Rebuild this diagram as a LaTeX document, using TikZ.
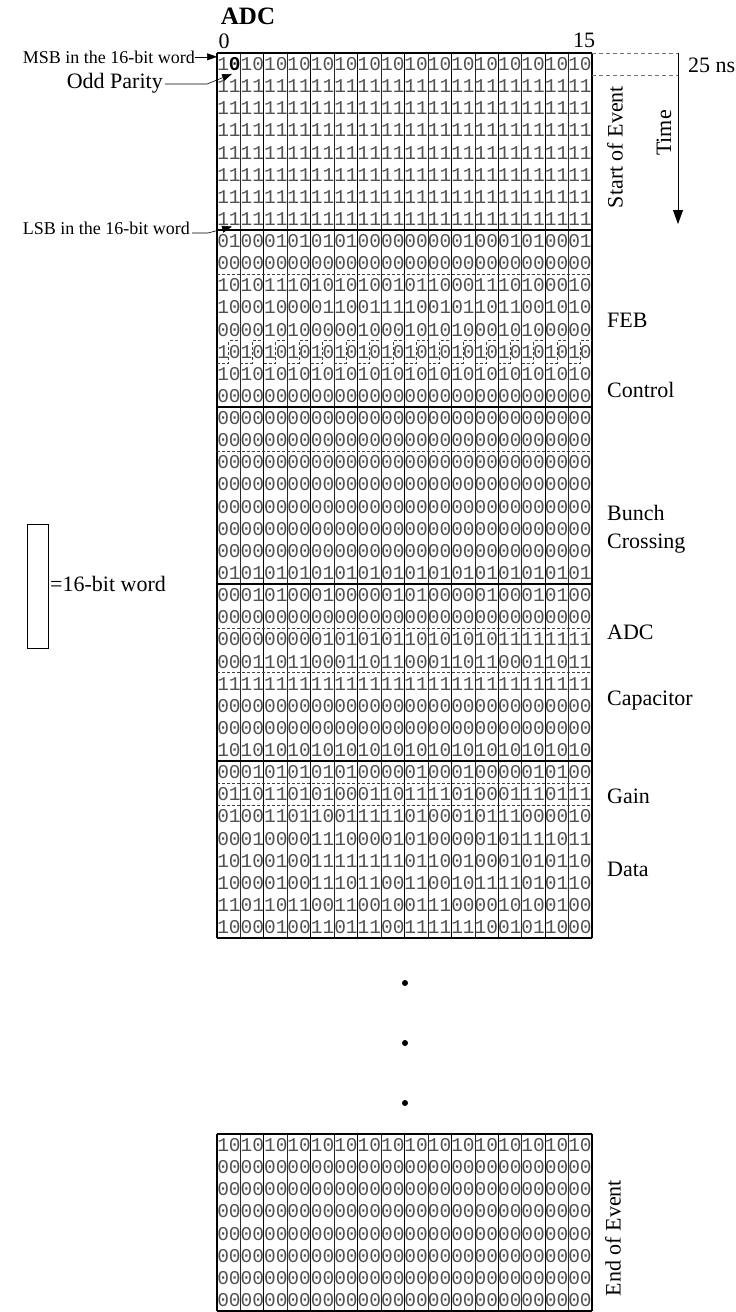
\documentclass[tikz,border=0pt]{standalone}
\usepackage{fontspec}
\setmainfont{Liberation Serif}
\setmonofont{Liberation Mono}
\usepackage{tikz}
\usetikzlibrary{calc}
\usetikzlibrary{arrows.meta}
\def\colw{23.44}
\def\rowh{22.13}
\tikzset{
   bits/.style={font=\fontsize{19.5}{20}\selectfont\ttfamily, text=black!68, inner sep=0pt},
   tag/.style={font=\fontsize{22}{24}\selectfont, inner sep=0pt},
   note/.style={font=\fontsize{18}{20}\selectfont, inner sep=0pt},
   wordline/.style={line width=0.5pt, draw=black!85},
   pairline/.style={line width=1.1pt, draw=black},
   blockline/.style={line width=1.7pt, draw=black},
   fieldline/.style={line width=0.6pt, draw=black!75, dash pattern=on 3pt off 2pt},
   tick/.style={line width=0.8pt, draw=black!55, dash pattern=on 4pt off 3pt},
   pointer/.style={draw=black, line width=0.6pt, -{Triangle[length=10pt,width=7pt]}},
}

\begin{document}
\begin{tikzpicture}[x=1pt,y=-1pt]
\path[fill=white, use as bounding box] (0,0) rectangle (736,1312);

\foreach \s [count=\i] in {1{\color{black}\textbf{0}}101010101010101010101010101010,
   11111111111111111111111111111111,11111111111111111111111111111111,
   11111111111111111111111111111111,11111111111111111111111111111111,
   11111111111111111111111111111111,11111111111111111111111111111111,
   11111111111111111111111111111111}
   \node[bits] (soe\i) at (404.52,{53+(\i-0.5)*\rowh}) {\s};
\foreach \s [count=\i] in {01000101010100000000010001010001,
   00000000000000000000000000000000,10101110101010010110001110100010,
   10001000011001111001011011001010,00001010000010001010100010100000,
   10101010101010101010101010101010,10101010101010101010101010101010,
   00000000000000000000000000000000}
   \node[bits] (feb\i) at (404.52,{230.04+(\i-0.5)*\rowh}) {\s};
\foreach \s [count=\i] in {00000000000000000000000000000000,
   00000000000000000000000000000000,00000000000000000000000000000000,
   00000000000000000000000000000000,00000000000000000000000000000000,
   00000000000000000000000000000000,00000000000000000000000000000000,
   01010101010101010101010101010101}
   \node[bits] (bx\i) at (404.52,{407.08+(\i-0.5)*\rowh}) {\s};
\foreach \s [count=\i] in {00010100010000010100000100010100,
   00000000000000000000000000000000,00000000010101011010101011111111,
   00011011000110110001101100011011,11111111111111111111111111111111,
   00000000000000000000000000000000,00000000000000000000000000000000,
   10101010101010101010101010101010}
   \node[bits] (adc\i) at (404.52,{584.12+(\i-0.5)*\rowh}) {\s};
\foreach \s [count=\i] in {00010101010100000100010000010100,
   01101101010001101111010001110111,01001101100111110100010111000010,
   00010000111000010100000101111011,10100100111111110110010001010110,
   10000100111011001100101111010110,11011011001100100111000010100100,
   10000100110111001111111001011000}
   \node[bits] (gd\i) at (404.52,{761.16+(\i-0.5)*\rowh}) {\s};
\foreach \s [count=\i] in {10101010101010101010101010101010,
   00000000000000000000000000000000,00000000000000000000000000000000,
   00000000000000000000000000000000,00000000000000000000000000000000,
   00000000000000000000000000000000,00000000000000000000000000000000,
   00000000000000000000000000000000}
   \node[bits] (eoe\i) at (404.52,{1134+(\i-0.5)*\rowh}) {\s};

\foreach \c in {0,...,16}{
   \pgfmathsetmacro{\xx}{217+\c*\colw}
   \ifodd\c \def\lw{wordline}\else \def\lw{pairline}\fi
   \draw[\lw] (\xx,53) -- (\xx,938.2);
   \draw[\lw] (\xx,1134) -- (\xx,1311.04);
}
\foreach \y in {53,230.04,407.08,584.12,761.16,938.2,1134,1311.04}
   \draw[blockline] (217,\y) -- (592,\y);
\foreach \y in {274.30,451.34,628.38,672.64,783.29,805.42}
   \draw[fieldline] (217,\y) -- (592,\y);
\foreach \c in {0,...,15}{
   \pgfmathsetmacro{\xa}{217+\c*\colw}
   \draw[fieldline] (\xa,362.82) -- ++(11.72,0) |- ++(11.72,-22.13);
}

\node[font=\bfseries\fontsize{25}{27}\selectfont, inner sep=0pt] (adc) at (248,16) {ADC};
\node[tag] (first) at (224,41) {0};
\node[tag] (last) at (584,40) {15};

\coordinate (slot top) at (592,53);
\coordinate (slot bottom) at (592,75.13);
\coordinate (tstart) at (678,53);
\coordinate (tend) at (678,224);
\draw[tick] (slot top) -- (tstart);
\draw[tick] (slot bottom) -- (slot bottom -| tstart);
\draw[line width=0.8pt, -{Triangle[length=14pt,width=10pt]}] (tstart) -- (tend);
\node[tag, anchor=west] (ns) at (688,65) {25 ns};
\node[tag, rotate=90] (time) at (664,133) {Time};
\node[tag, rotate=90] (start) at (615,147) {Start of Event};

\node[note, anchor=base east] (msb) at (195,63) {MSB in the 16-bit word};
\draw[pointer] (msb.east) -- (msb.east -| soe1.west);
\node[tag, anchor=base east] (odd) at (163,88) {Odd Parity};
\draw[pointer] ($(odd.base east)+(2,-4)$) -- ++(42,0) -- ($(soe1.south west)+(15,3)$);
\node[note, anchor=base east] (lsb) at (190,234) {LSB in the 16-bit word};
\draw[pointer] ($(lsb.base east)+(2,-1)$) -- ++(16,0) -- ($(soe8.south west)+(15,1)$);

\node[tag, anchor=base west] (feb) at (607,327) {FEB};
\node[tag, anchor=base west] (ctrl) at (607,397) {Control};
\node[tag, anchor=base west] (bunch) at (607,520) {Bunch};
\node[tag, anchor=base west] (cross) at (607,548) {Crossing};
\node[tag, anchor=base west] (adcl) at (607,639) {ADC};
\node[tag, anchor=base west] (cap) at (607,705) {Capacitor};
\node[tag, anchor=base west] (gain) at (607,803) {Gain};
\node[tag, anchor=base west] (data) at (607,876) {Data};

\node[draw, line width=0.6pt, minimum width=21pt, minimum height=124pt, inner sep=0pt] (word) at (37.5,586) {};
\node[tag, anchor=base west] (wordtext) at (50,591) {=16-bit word};

\foreach \y in {983,1043,1103}
   \fill (405,\y) circle (3pt);

\node[tag, rotate=90] (end) at (613,1238) {End of Event};
\end{tikzpicture}
\end{document}
